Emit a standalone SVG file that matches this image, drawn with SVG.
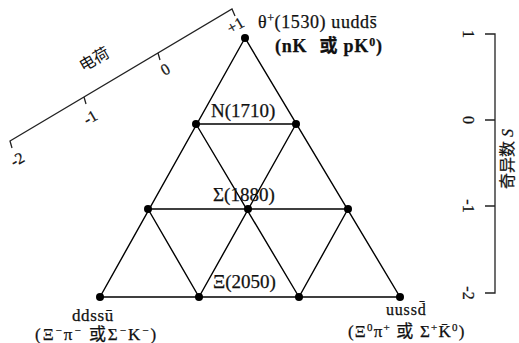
<svg xmlns="http://www.w3.org/2000/svg" width="519" height="343" viewBox="0 0 519 343">
<style>
.ln{stroke:#000;stroke-width:1.4;fill:none;stroke-linecap:round}
.ax{stroke:#222;stroke-width:1.3;fill:none}
.dot{fill:#000}
.t{font-family:"Liberation Serif","Noto Sans CJK SC",serif;fill:#111;stroke:#111;stroke-width:0.25}
.lab{font-size:19px}
.sm{font-size:16px}
.cjk{font-family:"Noto Sans CJK SC",sans-serif;fill:#111}
</style>
<rect width="519" height="343" fill="#fff"/>
<g id="connectors">
<path class="ln" d="M245,38 L100,297 L400,297 Z"/>
<path class="ln" d="M196,124 L296,124 M148,209 L348,209"/>
<path class="ln" d="M196,124 L299,297 M296,124 L199,297 M148,209 L199,297 M348,209 L299,297"/>
</g>
<g id="charge-axis">
<path class="ax" d="M12,148 L10,141 L232,9 L235,16 M84,97 L86,104 M158,53 L160,60"/>
<text class="t sm" transform="translate(20,164) rotate(-30)" text-anchor="middle">-2</text>
<text class="t sm" transform="translate(93,122) rotate(-30)" text-anchor="middle">-1</text>
<text class="t sm" transform="translate(168,74) rotate(-30)" text-anchor="middle">0</text>
<text class="t sm" transform="translate(238,30) rotate(-30)" text-anchor="middle">+1</text>
<text class="cjk" font-size="16" transform="translate(97,64) rotate(-30)" text-anchor="middle">电荷</text>
</g>
<g id="strangeness-axis">
<path class="ax" d="M485,34 L495,34 L495,293 L485,293 M485,120 L495,120 M485,206 L495,206"/>
<text class="t sm" transform="translate(463,34) rotate(90)" text-anchor="middle">1</text>
<text class="t sm" transform="translate(463,120) rotate(90)" text-anchor="middle">0</text>
<text class="t sm" transform="translate(463,206) rotate(90)" text-anchor="middle">-1</text>
<text class="t sm" transform="translate(463,293) rotate(90)" text-anchor="middle">-2</text>
<text class="t" font-size="16" transform="translate(513,159) rotate(-90)" text-anchor="middle">奇异数 <tspan font-style="italic">S</tspan></text>
</g>
<g id="theta">
<circle class="dot" cx="245" cy="38" r="4"/>
<text class="t" font-size="18" letter-spacing="0.6" x="258" y="28">θ<tspan font-size="12" dy="-6">+</tspan><tspan dy="6">(1530) uudds̄</tspan></text>
<text class="t" font-size="18" font-weight="bold" letter-spacing="0.8" x="275" y="52">(nK<tspan dx="12">或 pK</tspan><tspan font-size="12" dy="-6">0</tspan><tspan dy="6">)</tspan></text>
</g>
<g id="N1710">
<circle class="dot" cx="196" cy="124" r="4"/>
<circle class="dot" cx="296" cy="124" r="4"/>
<text class="t lab" x="211" y="117">N(1710)</text>
</g>
<g id="Sigma1880">
<circle class="dot" cx="148" cy="209" r="4"/>
<circle class="dot" cx="248" cy="209" r="4"/>
<circle class="dot" cx="348" cy="209" r="4"/>
<text class="t lab" x="213" y="201">Σ(1880)</text>
</g>
<g id="Xi2050">
<circle class="dot" cx="199" cy="297" r="4"/>
<circle class="dot" cx="299" cy="297" r="4"/>
<text class="t lab" x="213" y="288">Ξ(2050)</text>
</g>
<g id="ddssu">
<circle class="dot" cx="100" cy="297" r="4"/>
<text class="t" font-size="17" letter-spacing="0.6" x="72" y="321">ddssū</text>
<text class="t" font-size="17" letter-spacing="2" x="35" y="340">(Ξ<tspan font-size="11" dy="-6">−</tspan><tspan dy="6">π</tspan><tspan font-size="11" dy="-6">−</tspan><tspan dy="6"> 或Σ</tspan><tspan font-size="11" dy="-6">−</tspan><tspan dy="6">K</tspan><tspan font-size="11" dy="-6">−</tspan><tspan dy="6">)</tspan></text>
</g>
<g id="uussd">
<circle class="dot" cx="400" cy="297" r="4"/>
<text class="t" font-size="16" letter-spacing="0.8" x="386" y="315">uussd̄</text>
<text class="t" font-size="17" letter-spacing="1.2" x="348" y="337">(Ξ<tspan font-size="11" dy="-6">0</tspan><tspan dy="6">π</tspan><tspan font-size="11" dy="-6">+</tspan><tspan dy="6"> 或 Σ</tspan><tspan font-size="11" dy="-6">+</tspan><tspan dy="6">K̄</tspan><tspan font-size="11" dy="-6">0</tspan><tspan dy="6">)</tspan></text>
</g>
</svg>
